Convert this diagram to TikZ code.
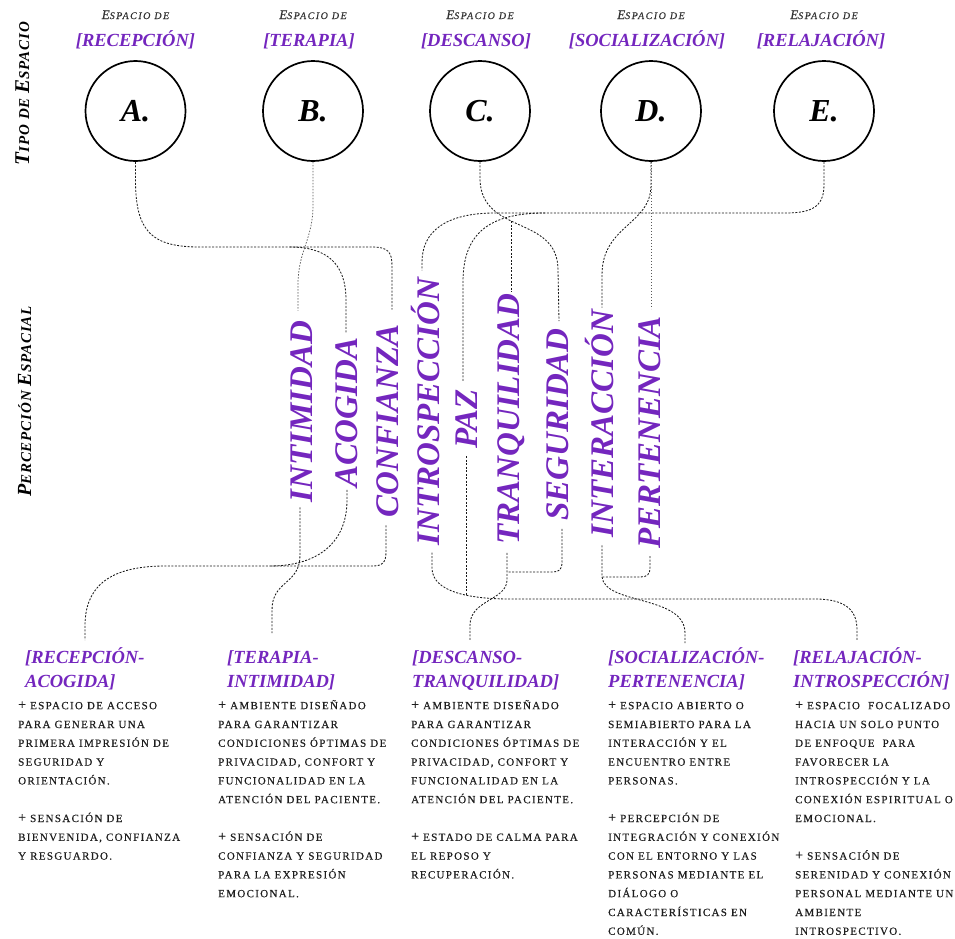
\documentclass[tikz,border=0pt]{standalone}
\usepackage{fontspec}
\setmainfont{Liberation Serif}
\newfontfamily\trkbody[LetterSpace=12,FakeBold=0.4]{Liberation Serif}
\newfontfamily\trkhead[LetterSpace=15,FakeBold=0.3]{Liberation Serif}
\newfontfamily\trkside[LetterSpace=6]{Liberation Serif}
\usetikzlibrary{calc}
\definecolor{vio}{RGB}{116,38,190}
\definecolor{ink}{RGB}{30,30,30}
\newcommand\plusmark{\rule{0pt}{10pt}{\fontsize{14}{14}\selectfont +}}
\newcommand\capE{{\fontsize{13}{12}\selectfont E}}

\tikzset{
  conn/.style={draw=black!90, line width=0.85pt, dash pattern=on 2pt off 1.5pt},
  connlt/.style={draw=black!65, line width=0.75pt, dash pattern=on 1.5pt off 1.5pt},
  spacecircle/.style={circle, draw, line width=1.7pt, minimum size=100pt, inner sep=0pt,
    font=\fontsize{32}{32}\selectfont\bfseries\itshape},
  head/.style={anchor=base, inner sep=0pt, text=black!80,
    font=\trkhead\itshape\fontsize{10}{10}\selectfont},
  headtitle/.style={anchor=base, inner sep=0pt, text=vio,
    font=\bfseries\itshape\fontsize{18.5}{19}\selectfont},
  word/.style={rotate=90, inner sep=0pt, text height=22pt, text depth=0pt, text=vio,
    font=\bfseries\itshape\fontsize{33}{33}\selectfont},
  side/.style={rotate=90, anchor=base, inner sep=0pt,
    font=\trkside\bfseries\itshape\fontsize{15}{15}\selectfont},
  title/.style={anchor=base west, inner sep=0pt, text=vio,
    font=\bfseries\itshape\fontsize{18.5}{19}\selectfont},
  body/.style={anchor=north west, align=left, inner sep=0pt, text=ink,
    font=\trkbody\fontsize{11}{18.8}\selectfont},
}

\begin{document}
\begin{tikzpicture}[x=1pt,y=-1pt]
\useasboundingbox (0,0) rectangle (955,938);

% side labels
\node[side] (sideTop) at (29,93.5) {{\fontsize{21}{21}\selectfont T}IPO DE {\fontsize{21}{21}\selectfont E}SPACIO};
\node[side] (sideMid) at (31,401.5) {{\fontsize{20}{20}\selectfont P}ERCEPCIÓN {\fontsize{20}{20}\selectfont E}SPACIAL};

% space types
\node[spacecircle] (cA) at (135.5,111) {A.};
\node[spacecircle] (cB) at (313,111) {B.};
\node[spacecircle] (cC) at (480,111) {C.};
\node[spacecircle] (cD) at (651,111) {D.};
\node[spacecircle] (cE) at (824,111) {E.};

\node[head] (hA) at (135.5,19) {\capE SPACIO DE};
\node[head] (hB) at (313,19) {\capE SPACIO DE};
\node[head] (hC) at (480,19) {\capE SPACIO DE};
\node[head] (hD) at (651,19) {\capE SPACIO DE};
\node[head] (hE) at (824,19) {\capE SPACIO DE};
\node[headtitle] (nA) at (135.5,46) {[RECEPCIÓN]};
\node[headtitle] (nB) at (309,46) {[TERAPIA]};
\node[headtitle] (nC) at (476,46) {[DESCANSO]};
\node[headtitle] (nD) at (647,46) {[SOCIALIZACIÓN]};
\node[headtitle] (nE) at (821,46) {[RELAJACIÓN]};

% spatial perceptions
\node[word] (wINT) at (301,411.5) {INTIMIDAD};
\node[word] (wACO) at (346,412.5) {ACOGIDA};
\node[word] (wCON) at (387,421) {CONFIANZA};
\node[word] (wINTRO) at (428,411.5) {INTROSPECCIÓN};
\node[word] (wPAZ) at (466,419) {PAZ};
\node[word] (wTRAN) at (508,419) {TRANQUILIDAD};
\node[word] (wSEG) at (557,424.5) {SEGURIDAD};
\node[word] (wINTER) at (602,423.5) {INTERACCIÓN};
\node[word] (wPERT) at (649,432.5) {PERTENENCIA};

% combined titles
\node[title] (tA1) at (25,663) {[RECEPCIÓN-};
\node[title] (tA2) at (25,687.5) {ACOGIDA]};
\node[title] (tB1) at (227,663) {[TERAPIA-};
\node[title] (tB2) at (227,687.5) {INTIMIDAD]};
\node[title] (tC1) at (412,663) {[DESCANSO-};
\node[title] (tC2) at (412,687.5) {TRANQUILIDAD]};
\node[title] (tD1) at (608,663) {[SOCIALIZACIÓN-};
\node[title] (tD2) at (608,687.5) {PERTENENCIA]};
\node[title] (tE1) at (793,663) {[RELAJACIÓN-};
\node[title] (tE2) at (793,687.5) {INTROSPECCIÓN]};

% descriptions (first line carries a 10pt strut, so its baseline sits 10pt below the anchor)
\node[body] (dA) at (18,699) {\plusmark\ ESPACIO DE ACCESO\\PARA GENERAR UNA\\PRIMERA IMPRESIÓN DE\\SEGURIDAD Y\\ORIENTACIÓN.\\[18.8pt]
\plusmark\ SENSACIÓN DE\\BIENVENIDA, CONFIANZA\\Y RESGUARDO.};
\node[body] (dB) at (218,699) {\plusmark\ AMBIENTE DISEÑADO\\PARA GARANTIZAR\\CONDICIONES ÓPTIMAS DE\\PRIVACIDAD, CONFORT Y\\FUNCIONALIDAD EN LA\\ATENCIÓN DEL PACIENTE.\\[18.8pt]
\plusmark\ SENSACIÓN DE\\CONFIANZA Y SEGURIDAD\\PARA LA EXPRESIÓN\\EMOCIONAL.};
\node[body] (dC) at (411,699) {\plusmark\ AMBIENTE DISEÑADO\\PARA GARANTIZAR\\CONDICIONES ÓPTIMAS DE\\PRIVACIDAD, CONFORT Y\\FUNCIONALIDAD EN LA\\ATENCIÓN DEL PACIENTE.\\[18.8pt]
\plusmark\ ESTADO DE CALMA PARA\\EL REPOSO Y\\RECUPERACIÓN.};
\node[body] (dD) at (608,699) {\plusmark\ ESPACIO ABIERTO O\\SEMIABIERTO PARA LA\\INTERACCIÓN Y EL\\ENCUENTRO ENTRE\\PERSONAS.\\[18.8pt]
\plusmark\ PERCEPCIÓN DE\\INTEGRACIÓN Y CONEXIÓN\\CON EL ENTORNO Y LAS\\PERSONAS MEDIANTE EL\\DIÁLOGO O\\CARACTERÍSTICAS EN\\COMÚN.};
\node[body] (dE) at (795,699) {\plusmark\ ESPACIO\ \ FOCALIZADO\\HACIA UN SOLO PUNTO\\DE ENFOQUE\ \ PARA\\FAVORECER LA\\INTROSPECCIÓN Y LA\\CONEXIÓN ESPIRITUAL O\\EMOCIONAL.\\[18.8pt]
\plusmark\ SENSACIÓN DE\\SERENIDAD Y CONEXIÓN\\PERSONAL MEDIANTE UN\\AMBIENTE\\INTROSPECTIVO.};

% ---- upper connectors: space types to perceptions
\draw[conn] (cA.south) -- (135.5,180) .. controls (135.5,232) and (152,247) .. (200,247)
  -- (372,247) .. controls (388,247) and (392,252) .. (392,266) -- ($(wCON.east)+(5,-15)$);
\coordinate (jA) at (290,247);
\draw[conn] (jA) .. controls (325,247) and (346,262) .. (346,300) -- ($(wACO.east)+(0,-4)$);

\draw[connlt] (cB.south) -- (313,205) .. controls (313,240) and (298,250) .. (298,285)
  -- ($(wINT.east)+(-3,-10)$);

\draw[conn] (cC.south) -- (480,180) .. controls (482,235) and (558,215) .. (558,270)
  coordinate[pos=0.43] (jC) -- ($(wSEG.east)+(2,-7)$);
\draw[conn] (jC) -- ($(jC |- wTRAN.east)+(0,-1)$);

\draw[conn] (cD.south) -- (651,185) .. controls (651,225) and (602,225) .. (602,275)
  -- ($(wINTER.east)+(0,-2)$);
\draw[connlt] (cD.south) -- ($(wPERT.east)+(2,-7)$);

\draw[conn] (cE.south) -- (824,185) .. controls (824,208) and (810,213) .. (785,213)
  -- (495,213) .. controls (445,213) and (422,232) .. (422,262) -- ($(wINTRO.east)+(-6,-7)$);
\coordinate (jE) at (545,213);
\draw[conn] (jE) .. controls (487,213) and (463,235) .. (463,282) -- ($(wPAZ.east)+(-3,-8)$);

% ---- lower connectors: perceptions to combined spaces
\coordinate (jR) at (270,566);
\draw[conn] ($(wCON.west)+(-1,8)$) -- (386,552) .. controls (386,563) and (382,566) .. (372,566)
  -- (165,566) .. controls (105,566) and (85,590) .. (85,626) -- ($(tA1.base west)+(60,-23)$);
\draw[conn] ($(wACO.west)+(1,2)$) -- (347,500) .. controls (347,545) and (315,566) .. (jR);

\draw[conn] ($(wINT.west)+(-1,5)$) -- (300,555) .. controls (300,585) and (272,580) .. (272,610)
  -- ($(tB1.base west)+(45,-30)$);

\draw[conn] ($(wINTRO.west)+(4,7)$) -- (432,568) .. controls (432,592) and (470,599) .. (510,599)
  coordinate[pos=0.6] (jP) -- (815,599) .. controls (848,599) and (857,612) .. (857,630)
  -- ($(tE1.base west)+(64,-23)$);
\draw[conn] ($(wPAZ.west)+(0,7)$) -- (wPAZ.west |- jP);

\coordinate (jT) at (507,572);
\draw[conn] ($(wTRAN.west)+(-1,8)$) -- (507,580) .. controls (507,600) and (470,600) .. (470,625)
  -- ($(tC1.base west)+(58,-23)$);
\draw[conn] ($(wSEG.west)+(5,8)$) -- (562,562) .. controls (562,570) and (559,572) .. (552,572) -- (jT);

\coordinate (jI) at (602,577);
\draw[conn] ($(wINTER.west)+(0,8)$) -- (jI) .. controls (605,605) and (685,595) .. (685,633)
  -- ($(tD1.base west)+(77,-20)$);
\draw[conn] ($(wPERT.west)+(1,7)$) -- (650,567) .. controls (650,575) and (647,577) .. (640,577) -- (jI);

\end{tikzpicture}
\end{document}
